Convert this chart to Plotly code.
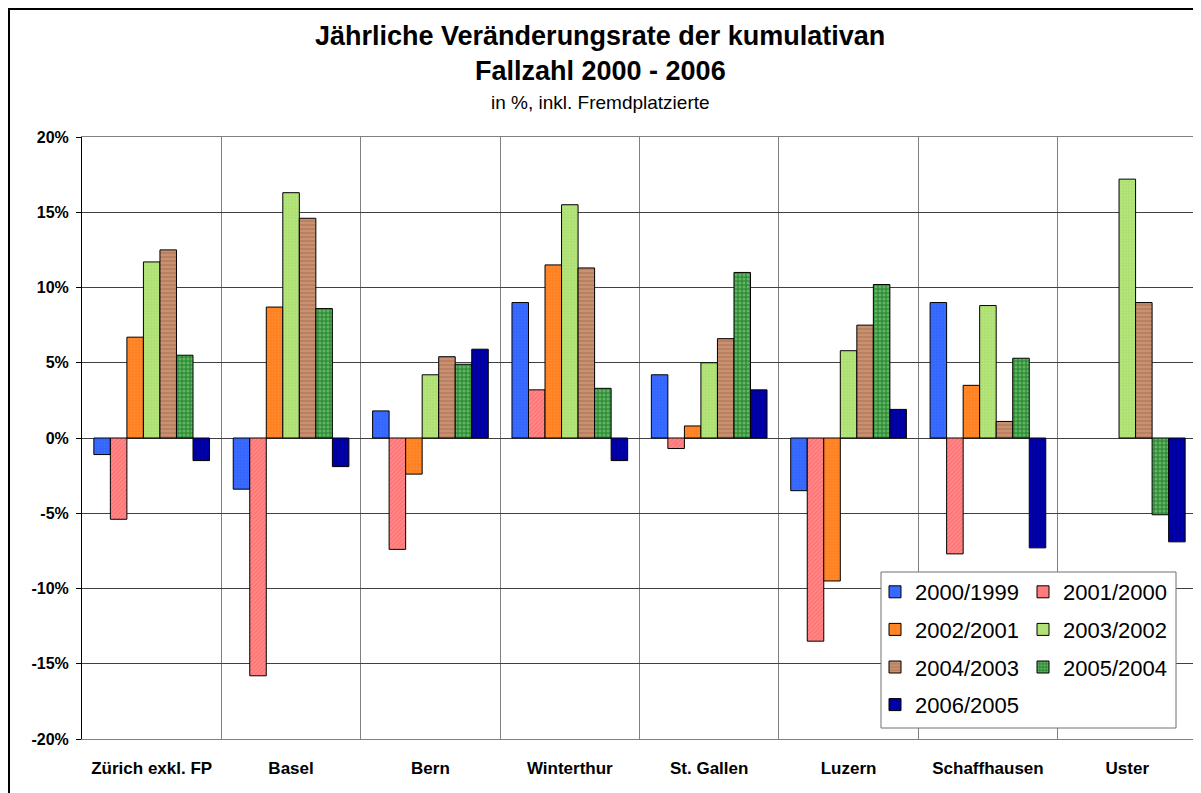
import plotly.graph_objects as go

# ---------------- data ----------------
categories = ["Zürich exkl. FP", "Basel", "Bern", "Winterthur",
              "St. Gallen", "Luzern", "Schaffhausen", "Uster"]
series_names = ["2000/1999", "2001/2000", "2002/2001", "2003/2002",
                "2004/2003", "2005/2004", "2006/2005"]
v_2000_1999 = [-1.1, -3.4, 1.8, 9.0, 4.2, -3.5, 9.0, None]
v_2001_2000 = [-5.4, -15.8, -7.4, 3.2, -0.7, -13.5, -7.7, None]
v_2002_2001 = [6.7, 8.7, -2.4, 11.5, 0.8, -9.5, 3.5, None]
v_2003_2002 = [11.7, 16.3, 4.2, 15.5, 5.0, 5.8, 8.8, 17.2]
v_2004_2003 = [12.5, 14.6, 5.4, 11.3, 6.6, 7.5, 1.1, 9.0]
v_2005_2004 = [5.5, 8.6, 4.9, 3.3, 11.0, 10.2, 5.3, -5.1]
v_2006_2005 = [-1.5, -1.9, 5.9, -1.5, 3.2, 1.9, -7.3, -6.9]
y_tickvals = [-20, -15, -10, -5, 0, 5, 10, 15, 20]
y_ticktext = ["-20%", "-15%", "-10%", "-5%", "0%", "5%", "10%", "15%", "20%"]

title_line1 = "Jährliche Veränderungsrate der kumulativan"
title_line2 = "Fallzahl 2000 - 2006"
subtitle = "in %, inkl. Fremdplatzierte"

values = [v_2000_1999, v_2001_2000, v_2002_2001, v_2003_2002,
          v_2004_2003, v_2005_2004, v_2006_2005]

# ---------------- styles ----------------
styles = [
    dict(color="#3366FF", pattern=dict(shape=".", fgcolor="#4A78FF", bgcolor="#3366FF", size=3, solidity=0.3)),
    dict(color="#FF7B7B", pattern=dict(shape="/", fgcolor="#FFB0B0", bgcolor="#FF7474", size=3, solidity=0.35)),
    dict(color="#FF8522", pattern=dict(shape=".", fgcolor="#FF9A44", bgcolor="#FF8020", size=3, solidity=0.3)),
    dict(color="#B3E47A", pattern=dict(shape=".", fgcolor="#C6EC98", bgcolor="#ADE070", size=3, solidity=0.3)),
    dict(color="#C48B6C", pattern=dict(shape="-", fgcolor="#DBAA8E", bgcolor="#BB8060", size=4, solidity=0.4)),
    dict(color="#3E9E45", pattern=dict(shape=".", fgcolor="#9AD89A", bgcolor="#2E8E35", size=4, solidity=0.45)),
    dict(color="#0000A8", pattern=dict(shape="|", fgcolor="#000060", bgcolor="#0000B0", size=4, solidity=0.3)),
]
legend_of = ["legend", "legend2", "legend", "legend2", "legend", "legend2", "legend"]

FONT = "Liberation Sans, Arial, sans-serif"

fig = go.Figure()
for name, vals, st, lg in zip(series_names, values, styles, legend_of):
    fig.add_trace(go.Bar(
        x=categories, y=vals, name=name,
        marker=dict(color=st["color"], pattern=st["pattern"],
                    line=dict(color="#000000", width=1)),
        legend=lg, legendgroup=name,
    ))

# page offsets the figure by the body margin (8px)
OFF = 8
W, H = 1201, 793
L, R, T, B = 74, 12, 129, 62
pw, ph = W - L - R, H - T - B


def px_x(sx):
    return (sx - OFF - L) / pw


def px_y(sy):
    return 1 - (sy - OFF - T) / ph


shapes = [
    # outer frame (top + left, extends beyond page)
    dict(type="rect", xref="paper", yref="paper",
         x0=px_x(9), x1=px_x(1300), y0=px_y(900), y1=px_y(9),
         line=dict(color="#000000", width=2), fillcolor="rgba(0,0,0,0)", layer="below"),
    # right border of plot area
    dict(type="line", xref="paper", yref="paper", x0=1, x1=1, y0=0, y1=1,
         line=dict(color="#808080", width=1), layer="above"),
    # legend box
    dict(type="rect", xref="paper", yref="paper",
         x0=px_x(881), x1=px_x(1176), y0=px_y(728), y1=px_y(572),
         line=dict(color="#707070", width=1), fillcolor="#FFFFFF", layer="above"),
]

annotations = [
    dict(text=title_line1, xref="paper", yref="paper", x=px_x(600), y=px_y(36),
         showarrow=False, xanchor="center", yanchor="middle",
         font=dict(family=FONT, size=27, color="#000000", weight="bold")),
    dict(text=title_line2, xref="paper", yref="paper", x=px_x(600), y=px_y(71),
         showarrow=False, xanchor="center", yanchor="middle",
         font=dict(family=FONT, size=27, color="#000000", weight="bold")),
    dict(text=subtitle, xref="paper", yref="paper", x=px_x(600), y=px_y(103),
         showarrow=False, xanchor="center", yanchor="middle",
         font=dict(family=FONT, size=19, color="#000000")),
]

legend_common = dict(
    bgcolor="rgba(0,0,0,0)", borderwidth=0,
    font=dict(family=FONT, size=22, color="#000000"),
    orientation="v", traceorder="grouped", tracegroupgap=6,
    xanchor="left", yanchor="top", itemclick=False, itemdoubleclick=False,
)

fig.update_layout(
    width=W, height=H,
    margin=dict(l=L, r=R, t=T, b=B, pad=0),
    paper_bgcolor="#FFFFFF", plot_bgcolor="#FFFFFF",
    barmode="group", bargap=0.17, bargroupgap=0,
    showlegend=True,
    legend=dict(x=px_x(875), y=px_y(571), **legend_common),
    legend2=dict(x=px_x(1023), y=px_y(571), **legend_common),
    shapes=shapes, annotations=annotations,
    xaxis=dict(type="category", range=[-0.5, 7.5], tickson="boundaries",
               showgrid=True, gridcolor="#808080", gridwidth=1,
               showline=True, linecolor="#808080", linewidth=1, mirror=True,
               ticks="", ticklabelstandoff=14,
               tickfont=dict(family=FONT, size=17, color="#000000", weight="bold"),
               fixedrange=True),
    yaxis=dict(range=[-20, 20], tickvals=y_tickvals, ticktext=y_ticktext,
               showgrid=True, gridcolor="#404040", gridwidth=1,
               zeroline=True, zerolinecolor="#404040", zerolinewidth=1,
               showline=True, linecolor="#000000", linewidth=1,
               ticks="outside", ticklen=5, tickcolor="#000000", ticklabelstandoff=4,
               tickfont=dict(family=FONT, size=16, color="#000000", weight="bold"),
               fixedrange=True),
)

fig.write_html("out.html")
